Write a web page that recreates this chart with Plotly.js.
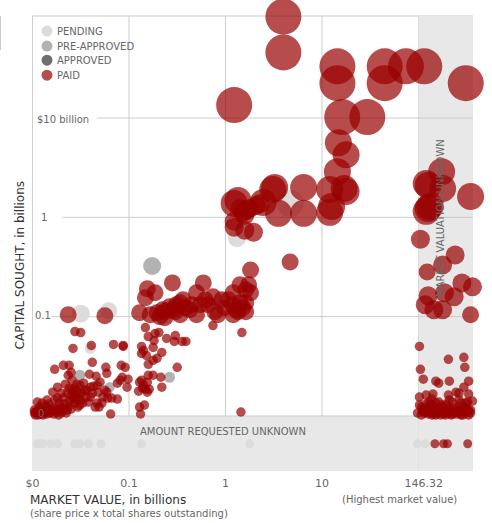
<!DOCTYPE html>
<html>
<head>
<meta charset="utf-8">
<script src="https://cdn.plot.ly/plotly-3.0.1.min.js"></script>
<style>html,body{margin:0;padding:0;background:#fff;overflow:hidden}#chart{width:492px;height:523px}</style>
</head>
<body>
<div id="chart"></div>
<script>
// Values are scale positions: x 0=$0, 1=0.1, 2=1, 3=10, 4=146.32 (billions);
// y 0=0, 1=0.1, 2=1, 3=$10 billion; below 0 = amount unknown, beyond x 4 = valuation unknown.
const xTickVals = [0, 1, 2, 3, 4];
const xTickText = ['$0', '0.1', '1', '10', '\u00a0\u00a0\u00a0146.32'];
const yTickVals = [0, 1, 2, 3];
const yTickText = ['0', '0.1', '1', '$10 billion'];
const yLabelAt = [0.09, 0.11, 0.12, 0.32];
const yLabelNudge = [0.02, 0.01, 0, -0.01];
const legendNames = ['PENDING', 'PRE-APPROVED', 'APPROVED', 'PAID'];
const legendColors = ['#dcdcdc', '#b2b2b2', '#6e6e6e', 'rgba(153,0,0,0.7)'];

const paidXLx = [2.60,2.60,2.09,3.16,3.16,3.65,3.65,3.87,4.06,4.49,3.21,3.47];
const paidXLy = [4.02,3.66,3.13,3.52,3.35,3.52,3.35,3.52,3.52,3.35,3.01,3.01];

const paidLx = [3.17,3.25,3.16,3.08,3.25,3.23,3.08,3.10,2.51,2.81,2.81,2.55,2.49,2.39,2.09,2.13,4.24,4.10,4.08,4.25,4.54,4.10,4.12,4.08];
const paidLy = [2.75,2.63,2.46,2.28,2.26,2.29,2.05,2.11,2.30,2.30,2.04,2.04,2.28,2.15,2.14,2.17,2.46,2.32,2.34,2.29,2.21,2.09,2.11,2.06];

const paidMx = [2.18,2.22,2.32,2.25,2.09,2.09,2.20,2.29,4.02,4.25,4.38,4.10,4.07,4.16,4.25,4.27,4.37,4.45,4.56,2.15,2.20,2.36];
const paidMy = [2.05,2.07,2.12,2.09,1.90,1.96,1.87,1.85,1.78,1.52,1.62,1.21,1.12,1.07,1.07,1.24,1.20,1.34,1.30,2.09,2.02,2.14];

const paidRx = [2.26,2.67,2.24,2.26,2.21,2.21,2.21,0.37,0.75,1.11,1.45,1.19,1.27,1.77,1.17,1.35,1.29,1.42,1.53,1.56,1.70,1.87,1.74,1.63,1.53,1.70,1.92,2.08,2.15,2.08,2.15,1.37,1.32,1.48,1.82,1.99,2.11,2.03,4.54,4.09,1.37,1.45,1.58,1.65,1.79,1.96,2.07,2.13,2.18,1.22,1.49,1.89];
const paidRy = [1.47,1.55,1.32,1.24,1.27,1.05,1.14,1.02,1.01,1.04,1.34,1.28,1.24,1.34,1.19,1.07,1.04,1.10,1.14,1.17,1.24,1.20,1.12,1.07,1.02,1.02,1.02,1.24,1.32,1.02,1.14,0.99,1.00,1.05,1.12,1.09,1.07,1.17,1.02,1.45,1.05,1.07,1.09,1.12,1.17,1.17,1.12,1.05,1.09,1.02,1.12,1.05];

const paidSx = [0.23,0.32,0.38,0.40,0.44,0.50,0.42,0.61,0.62,0.84,0.94,0.94,0.76,0.77,0.92,0.96,0.59,0.66,0.41,0.37,0.21,0.26,0.34,0.44,0.49,0.60,0.67,0.70,0.88,0.93,0.91,0.99,0.98,0.88,0.77,0.73,0.78,0.68,0.65,0.67,0.81,0.60,0.54,0.51,0.47,0.49,0.41,0.36,0.32,0.37,0.28,0.23,0.15,0.05,0.15,0.10,0.03,0.06,0.18,0.27,0.21,0.36,0.44,0.02,0.05,0.08,0.12,0.13,0.17,0.20,0.24,0.26,0.29,0.31,0.33,0.38,0.40,0.43,0.46,0.47,0.52,0.55,0.58,0.62,0.63,0.41,0.46,0.53,0.38,0.30,0.07,0.10,0.11,0.14,0.22,0.30,0.69,0.72,0.75,0.82,
  0.03,0.08,0.11,0.15,0.19,0.02,0.25,0.28,0.33,0.35,0.40,0.45,0.48,0.50,0.42,0.56,
  1.13,1.15,1.13,1.17,1.20,1.27,1.31,1.26,1.25,1.34,1.18,1.20,1.25,1.29,1.39,1.48,1.47,1.55,1.59,1.50,1.33,1.34,1.20,1.25,1.13,1.19,1.15,1.11,1.19,1.10,1.11,1.16,1.12,2.16,1.14,1.17,1.21,1.87,2.17,
  4.01,4.31,4.47,4.48,4.02,4.05,4.18,4.21,4.32,4.52,4.47,4.01,4.08,4.15,4.31,4.39,4.42,4.52,4.56,4.51,4.01,4.11,4.21,4.32,4.42,4.47,3.99,4.03,4.06,4.10,4.13,4.16,4.20,4.23,4.26,4.31,4.39,4.42,4.46,4.49,4.54,4.52,4.03,4.06,4.11,4.16,4.21,4.26,4.32,4.37,4.42,4.49,4.54,4.08,4.13,4.18,4.24,4.29,4.35,4.44,4.49,4.14,4.19,4.35,4.28,4.33,4.42,
  4.05,4.08,4.12,4.15,4.18,4.22,4.25,4.30,4.40,4.44,4.47,4.50,4.52,4.04,4.14,4.18,4.28,4.34,4.44];
const paidSy = [0.47,0.51,0.51,0.44,0.85,0.84,0.68,0.71,0.54,0.72,0.71,0.70,0.49,0.43,0.51,0.49,0.42,0.40,0.36,0.41,0.24,0.29,0.32,0.28,0.31,0.29,0.31,0.34,0.33,0.39,0.36,0.37,0.29,0.17,0.24,0.19,0.18,0.24,0.09,0.13,0.02,0.19,0.26,0.23,0.18,0.11,0.16,0.23,0.18,0.09,0.13,0.16,0.16,0.14,0.09,0.06,0.04,0.01,0.03,0.01,0.08,0.06,0.13,0.03,0.05,0.02,0.03,0.10,0.12,0.05,0.07,0.18,0.09,0.05,0.12,0.15,0.21,0.18,0.25,0.09,0.13,0.19,0.14,0.23,0.30,0.27,0.32,0.33,0.28,0.23,0.09,0.13,0.01,0.04,0.02,0.03,0.09,0.13,0.26,0.18,
  0.01,0.07,0.04,0.02,0.06,0.06,0.04,0.07,0.08,0.03,0.07,0.18,0.22,0.16,0.22,0.26,
  0.70,0.66,0.63,0.89,0.80,0.83,0.84,0.76,0.69,0.64,0.61,0.52,0.56,0.58,0.78,0.81,0.75,0.75,0.75,0.49,0.39,0.29,0.41,0.41,0.36,0.34,0.31,0.34,0.24,0.25,0.09,0.11,0.02,0.04,0.28,0.27,0.27,0.91,0.84,
  0.70,0.57,0.59,0.49,0.47,0.37,0.35,0.33,0.35,0.35,0.29,0.19,0.21,0.22,0.21,0.24,0.23,0.22,0.15,0.14,0.11,0.14,0.14,0.16,0.16,0.08,0.03,0.01,0.03,0.02,0.03,0.02,0.03,0.01,0.02,0.03,0.02,0.03,0.01,0.03,0.03,0.01,0.09,0.08,0.08,0.09,0.08,0.09,0.08,0.08,0.09,0.08,0.06,0.12,0.12,0.13,0.11,0.12,0.14,0.13,0.13,0.17,0.05,0.02,0.04,0.05,0.05,
  0.05,0.04,0.06,0.05,0.06,0.05,0.05,0.06,0.06,0.05,0.05,0.05,0.06,0.05,0.01,0.01,0.01,0.01,0.01];

const paidUnknownX = [4.17,4.26,4.30,4.51];
const paidUnknownY = [-0.28,-0.28,-0.28,-0.28];

const pendingBigX = [2.12,2.67,0.50,0.79,1.42];
const pendingBigY = [1.79,2.14,1.03,1.06,0.99];
const pendingBigSize = [18,27,18,17,12];
const pendingSmallX = [0.60,0.10,0.20,0.40,0.05,0.08,0.11,0.19,0.26,0.44,0.49,0.58,0.71,1.13,2.25,3.99,4.07];
const pendingSmallY = [0.68,0.01,0.13,0.11,-0.28,-0.28,-0.28,-0.28,-0.28,-0.28,-0.28,-0.28,-0.28,-0.28,-0.28,-0.28,-0.28];

const preApprovedX = [1.24,0.49,0.80,1.42];
const preApprovedY = [1.51,0.41,0.29,0.39];
const preApprovedSize = [18,11,10,11];

const sized = (a, s) => a.map(() => s);
const paidX = [...paidSx, ...paidUnknownX, ...paidRx, ...paidMx, ...paidLx, ...paidXLx];
const paidY = [...paidSy, ...paidUnknownY, ...paidRy, ...paidMy, ...paidLy, ...paidXLy];
const paidSize = [...sized(paidSx,9.5), ...sized(paidUnknownX,9), ...sized(paidRx,17), ...sized(paidMx,19), ...sized(paidLx,27), ...sized(paidXLx,36)];

function tr(name, x, y, size, color) {
  return {type:'scatter', mode:'markers', name, x, y, cliponaxis:false, hoverinfo:'skip', showlegend:false,
    marker:{size, color, opacity:1, line:{width:0}}};
}
const traces = [
  tr(legendNames[0], [...pendingBigX, ...pendingSmallX], [...pendingBigY, ...pendingSmallY],
     [...pendingBigSize, ...pendingSmallX.map((_, i) => i < 1 ? 11 : 9)], legendColors[0]),
  tr(legendNames[1], preApprovedX, preApprovedY, preApprovedSize, legendColors[1]),
  tr(legendNames[3], paidX, paidY, paidSize, legendColors[3])
];

const grid = '#cccccc';
const vline = v => ({type:'line', layer:'below', xref:'x', yref:'paper', x0:v, x1:v, y0:0, y1:1, line:{color:grid, width:1}});
const hline = (v, from) => ({type:'line', layer:'below', xref:'x', yref:'y', x0:from, x1:4.565, y0:v, y1:v, line:{color:grid, width:1}});
const band = (x0, x1, y0, y1) => ({type:'rect', layer:'below', xref:'x', yref:'y', x0, x1, y0, y1, fillcolor:'#e8e8e8', line:{width:0}});
const legendRowY = [0.967, 0.934, 0.903, 0.870];
const legendDot = (i) => ({type:'circle', layer:'above', xref:'paper', yref:'paper', xsizemode:'pixel', ysizemode:'pixel',
  xanchor:0.034, yanchor:legendRowY[i], x0:-5.5, x1:5.5, y0:-5.5, y1:5.5, fillcolor:legendColors[i], line:{width:0}});

const font = 'DejaVu Sans, Verdana, sans-serif';
const gray = '#666';
const layout = {
  width:492, height:523, margin:{l:32, r:19, t:16, b:52},
  paper_bgcolor:'#fff', plot_bgcolor:'#fff',
  font:{family:font, size:10, color:gray},
  showlegend:false,
  xaxis:{range:[-0.005,4.565], tickvals:xTickVals, ticktext:xTickText, showgrid:false, zeroline:false, showline:false, ticks:'outside', ticklen:2, tickcolor:'rgba(0,0,0,0)', tickfont:{size:11, color:gray}, fixedrange:true},
  yaxis:{range:[-0.554,4.027], showticklabels:false, showgrid:false, zeroline:false, showline:false, ticks:'', fixedrange:true},
  shapes:[
    band(4,4.565,-0.554,4.027), band(-0.005,4,-0.554,0),
    vline(0), vline(1), vline(2), vline(3), vline(4),
    hline(0,0), hline(1,0.2), hline(2,0.31), hline(3,0.67),
    {type:'line', layer:'below', xref:'paper', yref:'paper', x0:0, x1:1, y0:1, y1:1, line:{color:grid, width:1}},
    {type:'line', layer:'below', xref:'paper', yref:'paper', x0:-0.0714, x1:-0.0714, y0:0.925, y1:1, line:{color:grid, width:1}},
    ...legendNames.map((_, i) => legendDot(i))
  ],
  annotations:[
    ...yTickText.map((t, i) => ({xref:'x', yref:'y', x:yLabelAt[i], y:yTickVals[i]+yLabelNudge[i], text:t, showarrow:false, font:{size:10, color:gray}})),
    ...legendNames.map((t, i) => ({xref:'paper', yref:'paper', xanchor:'left', yanchor:'middle', x:0.054, y:legendRowY[i], text:t, showarrow:false, xshift:-1, font:{size:10, color:gray}})),
    {xref:'x', yref:'y', x:1.975, y:-0.16, text:'AMOUNT REQUESTED UNKNOWN', showarrow:false, font:{size:10, color:gray}},
    {xref:'x', yref:'y', x:4.23, y:1.99, text:'MARKET VALUATION UNKNOWN', textangle:-90, showarrow:false, font:{size:10, color:gray}},
    {xref:'paper', yref:'paper', xanchor:'center', yanchor:'middle', x:-0.027, y:0.452, text:'CAPITAL SOUGHT, in billions', textangle:-90, showarrow:false, font:{size:12, color:'#333'}},
    {xref:'paper', yref:'paper', xanchor:'left', yanchor:'middle', x:-0.008, y:-0.063, text:'MARKET VALUE, in billions', showarrow:false, font:{size:12, color:'#333'}},
    {xref:'paper', yref:'paper', xanchor:'left', yanchor:'middle', x:-0.008, y:-0.094, text:'(share price x total shares outstanding)', showarrow:false, font:{size:10, color:gray}},
    {xref:'paper', yref:'paper', xanchor:'left', yanchor:'middle', x:0.698, y:-0.063, text:'(Highest market value)', showarrow:false, font:{size:10, color:gray}}
  ]
};
Plotly.newPlot('chart', traces, layout, {displayModeBar:false, staticPlot:true});
</script>
</body>
</html>
